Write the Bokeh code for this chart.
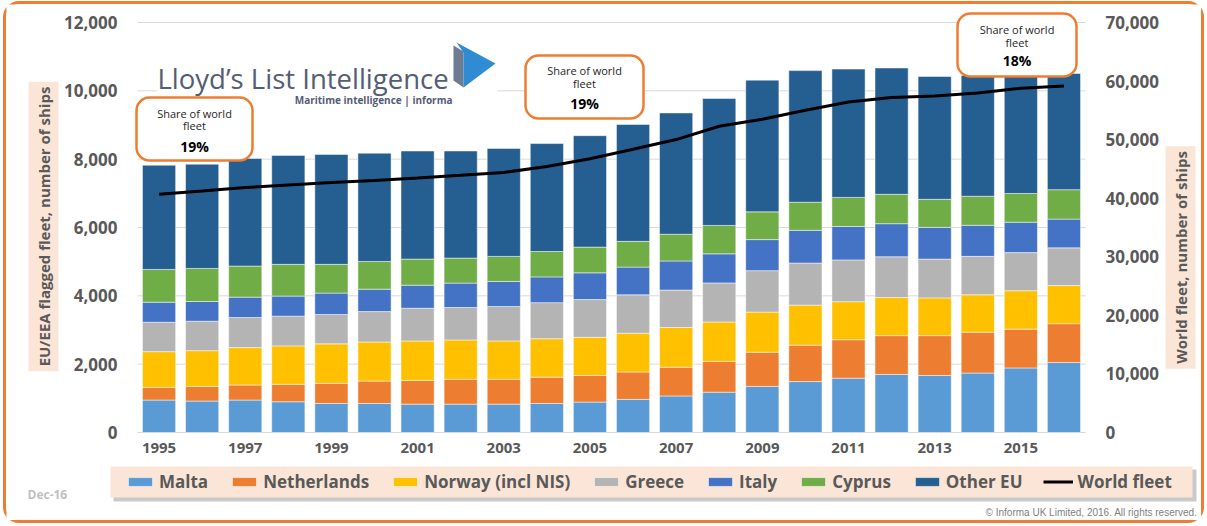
from math import pi
from bokeh.plotting import figure
from bokeh.models import (Range1d, LinearAxis, FixedTicker, NumeralTickFormatter, Legend,
                          LegendItem, Label, BoxAnnotation, ColumnDataSource)
from bokeh.embed import file_html
from bokeh.resources import INLINE

# ---------------- data ----------------
years = list(range(1995, 2017))
malta       = [950, 920, 950, 900, 850, 850, 830, 830, 830, 850, 890, 970, 1070, 1180, 1350, 1490, 1590, 1700, 1670, 1740, 1890, 2050]
netherlands = [370, 430, 440, 510, 590, 655, 695, 725, 725, 770, 780, 800, 840, 900, 1000, 1065, 1125, 1135, 1165, 1195, 1135, 1135]
norway      = [1047, 1046, 1095, 1125, 1154, 1144, 1154, 1154, 1125, 1125, 1115, 1135, 1164, 1154, 1174, 1173, 1115, 1115, 1105, 1095, 1125, 1115]
greece      = [860, 861, 880, 870, 860, 890, 958, 949, 1007, 1056, 1105, 1124, 1095, 1144, 1213, 1232, 1222, 1193, 1135, 1125, 1115, 1105]
italy       = [587, 577, 597, 587, 626, 656, 675, 714, 734, 753, 783, 812, 851, 851, 909, 958, 978, 969, 929, 910, 890, 841]
cyprus      = [959, 968, 909, 929, 841, 811, 763, 733, 733, 744, 753, 753, 783, 832, 812, 822, 851, 860, 821, 850, 841, 861]
other_eu    = [3051, 3051, 3150, 3189, 3218, 3169, 3164, 3135, 3161, 3159, 3262, 3421, 3550, 3716, 3855, 3852, 3755, 3697, 3594, 3536, 3507, 3400]
world_fleet = [40680, 41240, 41820, 42270, 42670, 43020, 43450, 43900, 44400, 45400, 46750, 48360, 50010, 52290, 53480, 55020, 56440, 57180, 57460, 57970, 58770, 59170]

series_keys = ["malta", "netherlands", "norway", "greece", "italy", "cyprus", "other_eu"]
series_labels = ["Malta", "Netherlands", "Norway (incl NIS)", "Greece", "Italy", "Cyprus", "Other EU"]
series_colors = ["#5B9BD5", "#ED7D31", "#FFC000", "#B4B4B4", "#4472C4", "#70AD47", "#255E91"]
left_ticks = [0, 2000, 4000, 6000, 8000, 10000, 12000]
right_ticks = [0, 10000, 20000, 30000, 40000, 50000, 60000, 70000]
x_ticks = [1995, 1997, 1999, 2001, 2003, 2005, 2007, 2009, 2011, 2013, 2015]
shares = ["19%", "19%", "18%"]

# ---------------- layout (reference pixel geometry) ----------------
W, H = 1201, 522
OX, OY = 6, 4                        # canvas origin in reference pixels (css margin + border)
FL, FR, FB = 137, 1085, 432          # bar area: left/right edges and zero line, reference pixels
X0, X1 = 1994.5, 2016.5
X_PER_PX = (X1 - X0) / (FR - FL)
Y_PER_PX = 12000 / 410.0
RATIO = 70000 / 12000


def fx(xr):
    return X0 + (xr - FL) * X_PER_PX


def fy(yr):
    return (FB - yr) * Y_PER_PX


GRAY = "#595959"
PEACH = "#FBE5D6"
ORANGE = "#ED7D31"
FONT = "Open Sans"

p = figure(width=W, height=H, output_backend="svg", toolbar_location=None, title=None,
           x_range=Range1d(fx(OX), fx(OX + W)), y_range=Range1d(fy(OY + H), fy(OY)),
           min_border=0)
p.styles = {"border": "3px solid " + ORANGE, "border-radius": "16px", "margin": "1px 0 0 3px"}
p.outline_line_color = None
p.background_fill_color = "white"
p.border_fill_color = "white"
p.extra_y_ranges = {"world": Range1d(fy(OY + H) * RATIO, fy(OY) * RATIO)}
p.grid.visible = False

# axes, drawn inside the canvas at fixed locations
xaxis = p.xaxis[0]
yaxis = p.yaxis[0]
xaxis.ticker = FixedTicker(ticks=x_ticks)
xaxis.fixed_location = 0
xaxis.bounds = (X0, X1)
yaxis.ticker = FixedTicker(ticks=left_ticks)
yaxis.formatter = NumeralTickFormatter(format="0,0")
yaxis.fixed_location = X0
right_axis = LinearAxis(y_range_name="world", ticker=FixedTicker(ticks=right_ticks),
                        formatter=NumeralTickFormatter(format="0,0"), fixed_location=X1)
p.add_layout(right_axis, "right")
for ax in [xaxis, yaxis, right_axis]:
    ax.major_tick_line_color = None
    ax.minor_tick_line_color = None
    ax.major_tick_out = 0
    ax.major_tick_in = 0
    ax.major_label_text_font = FONT
    ax.major_label_text_font_style = "bold"
    ax.major_label_text_color = GRAY
for ax in [yaxis, right_axis]:
    ax.axis_line_color = None
    ax.major_label_text_font_size = "17px"
    ax.major_label_standoff = 20
xaxis.axis_line_color = "#D9D9D9"
xaxis.major_label_text_font_size = "15px"
xaxis.major_label_standoff = 10

# horizontal gridlines over the bar area
p.segment(x0=[X0] * len(left_ticks), x1=[X1] * len(left_ticks), y0=left_ticks, y1=left_ticks,
          line_color="#D9D9D9", line_width=1, level="underlay")

# logo background (covers grid)
p.add_layout(BoxAnnotation(left=fx(157), right=fx(497), top=fy(38), bottom=fy(106),
                           fill_color="white", fill_alpha=1, line_color=None, level="underlay"))

# bars and world fleet line
src = ColumnDataSource(dict(year=years, malta=malta, netherlands=netherlands, norway=norway,
                            greece=greece, italy=italy, cyprus=cyprus, other_eu=other_eu,
                            world=world_fleet))
bar_rs = p.vbar_stack(series_keys, x="year", width=0.77, source=src,
                      fill_color=series_colors, line_color="white", line_width=0.7, line_alpha=0.7)
line_r = p.line("year", "world", source=src, y_range_name="world", line_color="black", line_width=3)

# logo
p.patch([fx(453), fx(463), fx(463), fx(453)], [fy(45), fy(51), fy(87), fy(80)],
        fill_color="#6F7B90", line_color=None)
p.patch([fx(456), fx(495), fx(463), fx(463)], [fy(42), fy(63), fy(87), fy(52)],
        fill_color="#2F8CD3", line_color=None)
p.add_layout(Label(x=fx(157), y=fy(78), text="Lloyd\u2019s List Intelligence", text_align="left",
                   text_baseline="middle", text_font=FONT, text_font_size="27.5px",
                   text_color="#535D74"))
p.add_layout(Label(x=fx(452), y=fy(99), text="Maritime intelligence | informa", text_align="right",
                   text_baseline="middle", text_font=FONT, text_font_size="10px",
                   text_font_style="bold", text_color="#535D74"))

# share boxes
boxes = [(136, 252, 97, 160, 112.7, 125, 146), (525, 643, 55, 118, 70, 83, 103),
         (957, 1076, 13, 76, 29, 42, 60)]
for (l, r, t, b, y1, y2, ys), share in zip(boxes, shares):
    p.add_layout(BoxAnnotation(left=fx(l), right=fx(r), top=fy(t), bottom=fy(b), fill_color="white",
                               fill_alpha=1, line_color=ORANGE, line_alpha=1, line_width=2.5,
                               border_radius=13))
    cx = fx((l + r) / 2)
    for txt, yy in [("Share of world", y1), ("fleet", y2)]:
        p.add_layout(Label(x=cx, y=fy(yy), text=txt, text_align="center", text_baseline="middle",
                           text_font=FONT, text_font_size="11px", text_color="#262626"))
    p.add_layout(Label(x=cx, y=fy(ys), text=share, text_align="center", text_baseline="middle",
                       text_font=FONT, text_font_size="14px", text_font_style="bold",
                       text_color="#000000"))

# axis titles
p.add_layout(Label(x=fx(43), y=fy(226), text="EU/EEA flagged fleet, number of ships", angle=pi / 2,
                   text_align="center", text_baseline="middle", text_font=FONT,
                   text_font_size="15px", text_font_style="bold", text_color=GRAY,
                   background_fill_color=PEACH, padding=5))
p.add_layout(Label(x=fx(1180), y=fy(257), text="World fleet, number of ships", angle=pi / 2,
                   text_align="center", text_baseline="middle", text_font=FONT,
                   text_font_size="15px", text_font_style="bold", text_color=GRAY,
                   background_fill_color=PEACH, padding=5))

# footer texts
p.add_layout(Label(x=fx(27), y=fy(494), text="Dec-16", text_align="left", text_baseline="middle",
                   text_font=FONT, text_font_size="12px", text_font_style="bold",
                   text_color="#BFBFBF"))
p.add_layout(Label(x=fx(1197), y=fy(512), text="\u00a9 Informa UK Limited, 2016. All rights reserved.",
                   text_align="right", text_baseline="middle", text_font="Liberation Sans",
                   text_font_size="10px", text_color="#7F7F7F"))

# legend box with shadow
p.add_layout(BoxAnnotation(left=fx(113), right=fx(1196), top=fy(469), bottom=fy(501),
                           fill_color="#C9C9C9", fill_alpha=1, line_color=None))
p.add_layout(BoxAnnotation(left=fx(110), right=fx(1192), top=fy(466), bottom=fy(497),
                           fill_color=PEACH, fill_alpha=1, line_color=None))
items = [LegendItem(label=lab, renderers=[r]) for lab, r in zip(series_labels, bar_rs)]
items.append(LegendItem(label="World fleet", renderers=[line_r]))
legend = Legend(items=items, orientation="horizontal", location=(125 - OX, OY + H - 493),
                padding=4, spacing=21, glyph_width=30, glyph_height=11, label_standoff=4,
                label_text_font=FONT, label_text_font_size="17px", label_text_font_style="bold",
                label_text_color=GRAY, background_fill_alpha=0, border_line_color=None, margin=0)
p.add_layout(legend)

open("out.html", "w").write(file_html(p, INLINE))
